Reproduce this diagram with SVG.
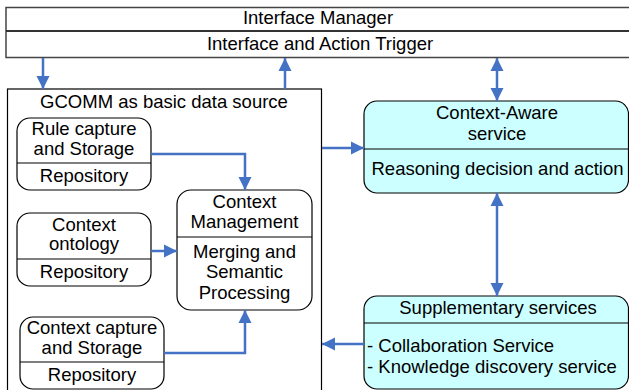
<svg xmlns="http://www.w3.org/2000/svg" width="629" height="390" viewBox="0 0 629 390">
<style>
text{font-family:"Liberation Sans",Arial,sans-serif;font-size:18.5px;fill:#000;text-anchor:middle}
.l{text-anchor:start}
.box{fill:#fff;stroke:#000;stroke-width:1.2}
.cyan{fill:#ccffff;stroke:#000;stroke-width:1.2}
.div{stroke:#000;stroke-width:1.2}
.top{fill:#fff;stroke:#444;stroke-width:1.5}
.c{fill:none;stroke:#4472c4;stroke-width:2.5}
</style>
<defs>
<marker id="ah" markerUnits="userSpaceOnUse" markerWidth="14" markerHeight="14" refX="13" refY="7" orient="auto">
<path d="M0,0.5 L13,7 L0,13.5 Z" fill="#4472c4"/>
</marker>
<marker id="as" markerUnits="userSpaceOnUse" markerWidth="14" markerHeight="14" refX="0" refY="7" orient="auto">
<path d="M13,0.5 L0,7 L13,13.5 Z" fill="#4472c4"/>
</marker>
</defs>
<g id="interface-manager">
<rect class="top" x="6" y="7.5" width="630" height="50"/>
<line x1="6" y1="31" x2="636" y2="31" stroke="#333" stroke-width="2"/>
<text x="318" y="24">Interface Manager</text>
<text x="320" y="50">Interface and Action Trigger</text>
</g>
<g id="gcomm">
<rect class="box" x="7.5" y="89" width="314" height="320"/>
<text x="164" y="108">GCOMM as basic data source</text>
</g>
<g id="rule-capture">
<rect class="box" x="17" y="118" width="134" height="72" rx="13"/>
<line class="div" x1="17" y1="163" x2="151" y2="163"/>
<text x="84" y="135">Rule capture</text>
<text x="84" y="155">and Storage</text>
<text x="84" y="182">Repository</text>
</g>
<g id="context-ontology">
<rect class="box" x="17" y="213" width="134" height="73" rx="13"/>
<line class="div" x1="17" y1="259" x2="151" y2="259"/>
<text x="84" y="231">Context</text>
<text x="84" y="250">ontology</text>
<text x="84" y="278">Repository</text>
</g>
<g id="context-capture">
<rect class="box" x="20" y="317" width="144" height="72" rx="13"/>
<line class="div" x1="20" y1="362" x2="164" y2="362"/>
<text x="92" y="334">Context capture</text>
<text x="92" y="354">and Storage</text>
<text x="92" y="381">Repository</text>
</g>
<g id="context-management">
<rect class="box" x="177" y="190" width="135" height="120" rx="14"/>
<line class="div" x1="177" y1="237" x2="312" y2="237"/>
<text x="244.5" y="208">Context</text>
<text x="244.5" y="228">Management</text>
<text x="244.5" y="258">Merging and</text>
<text x="244.5" y="278">Semantic</text>
<text x="244.5" y="299">Processing</text>
</g>
<g id="context-aware">
<rect class="cyan" x="364" y="101" width="264.5" height="92" rx="13"/>
<line class="div" x1="364" y1="149" x2="629" y2="149"/>
<text x="497" y="119">Context-Aware</text>
<text x="497" y="140">service</text>
<text x="497.5" y="175">Reasoning decision and action</text>
</g>
<g id="supplementary">
<rect class="cyan" x="364" y="296" width="264.5" height="93" rx="13"/>
<line class="div" x1="364" y1="323" x2="629" y2="323"/>
<text x="498" y="314">Supplementary services</text>
<text class="l" x="367" y="352">- Collaboration Service</text>
<text class="l" x="367" y="373">- Knowledge discovery service</text>
</g>
<g id="connectors">
<line class="c" x1="43" y1="58" x2="43" y2="89" marker-end="url(#ah)"/>
<line class="c" x1="285" y1="89" x2="285" y2="58" marker-end="url(#ah)"/>
<line class="c" x1="497" y1="58" x2="497" y2="101" marker-start="url(#as)" marker-end="url(#ah)"/>
<line class="c" x1="322" y1="148" x2="364" y2="148" marker-end="url(#ah)"/>
<line class="c" x1="497" y1="193" x2="497" y2="296" marker-start="url(#as)" marker-end="url(#ah)"/>
<line class="c" x1="364" y1="344" x2="322" y2="344" marker-end="url(#ah)"/>
<polyline class="c" points="151,154 245,154 245,190" marker-end="url(#ah)"/>
<line class="c" x1="151" y1="251" x2="177" y2="251" marker-end="url(#ah)"/>
<polyline class="c" points="164,353 245,353 245,310" marker-end="url(#ah)"/>
</g>
</svg>
